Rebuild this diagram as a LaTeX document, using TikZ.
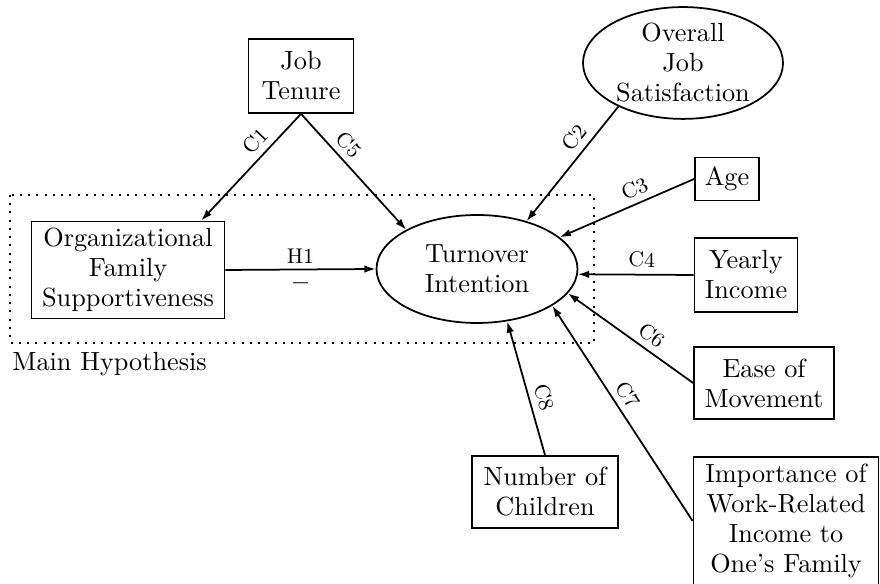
\documentclass[tikz,border=0pt]{standalone}
\usepackage{tikz}
\usetikzlibrary{shapes.geometric,arrows.meta}

\begin{document}
\begin{tikzpicture}[x=0.4pt,y=0.4pt,
  box/.style n args={2}{draw,rectangle,align=center,inner sep=1pt,minimum width=#1,minimum height=#2,font=\fontsize{10.5}{12}\selectfont,line width=0.7pt},
  oval/.style n args={2}{draw,ellipse,align=center,inner sep=0pt,minimum width=#1,minimum height=#2,font=\fontsize{10.5}{12}\selectfont,line width=0.7pt},
  conn/.style={-{Latex[length=4.5pt,width=3pt]},line width=0.7pt},
  clab/.style={sloped,above,inner sep=2.5pt,font=\fontsize{8.5}{9}\selectfont},
  hypbox/.style={line width=0.8pt,dash pattern=on 0.8pt off 2.5pt}]
\useasboundingbox (0,0) rectangle (880,584);
\draw[hypbox] (10,389) rectangle (594,241);
\node[anchor=base west,inner sep=0pt,font=\fontsize{10.5}{12}\selectfont] (mainhyp) at (12,213) {Main Hypothesis};
\node[box={42pt}{29.6pt}] (tenure) at (301,508) {Job\\Tenure};
\node[oval={80pt}{44.4pt}] (ojs) at (683,521) {Overall\\Job\\Satisfaction};
\node[box={25.6pt}{17.2pt}] (age) at (727,405) {Age};
\node[box={41.2pt}{29.6pt}] (income) at (746,309) {Yearly\\Income};
\node[oval={80.4pt}{43.2pt}] (ti) at (477,315) {Turnover\\Intention};
\node[box={77.2pt}{38.8pt}] (ofs) at (128,314) {Organizational\\Family\\Supportiveness};
\node[box={56pt}{28.8pt}] (ease) at (764,201) {Ease of\\Movement};
\node[box={58.4pt}{28.8pt}] (children) at (545,92) {Number of\\Children};
\node[box={74pt}{51pt}] (importance) at (786,63) {Importance of\\Work-Related\\Income to\\One's Family};
\draw[conn] (ofs.east) -- node[above,inner sep=2pt,font=\fontsize{8.5}{9}\selectfont]{H1}
   node[below,inner sep=2pt]{$-$} (ti.west);
\foreach \src/\dst/\lab/\p in %
{tenure.south/ofs.34/C1/0.35, tenure.south/ti.151/C5/0.35, ojs.214/ti.44/C2/0.35,
 age.west/ti.21/C3/0.4, income.west/ti.-3/C4/0.45, ease.west/ti.-15/C6/0.4,
 importance.west/ti.-26/C7/0.55, children.north/ti.-60/C8/0.4} {
   \draw[conn] (\src) -- node[clab,pos=\p]{\lab} (\dst);
}
\end{tikzpicture}
\end{document}
